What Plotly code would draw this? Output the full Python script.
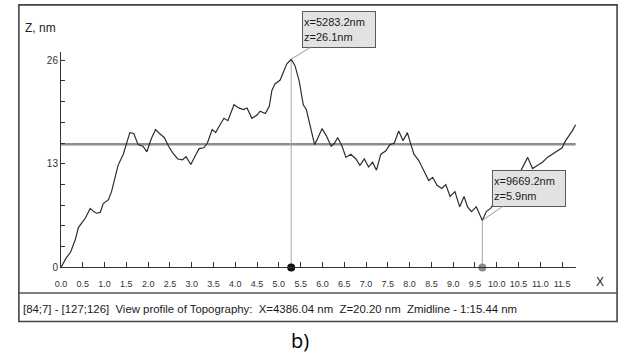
import plotly.graph_objects as go

# Surface profile: position along scan line (um) and height (nm)
x_um = [0.00, 0.12, 0.22, 0.33, 0.40, 0.48, 0.56, 0.67, 0.75, 0.82, 0.90, 0.97,
        1.09, 1.16, 1.24, 1.31, 1.43, 1.50, 1.58, 1.67, 1.77, 1.88, 1.97, 2.07,
        2.17, 2.26, 2.37, 2.47, 2.56, 2.68, 2.79, 2.87, 2.98, 3.10, 3.17, 3.28,
        3.36, 3.47, 3.55, 3.65, 3.74, 3.83, 3.97, 4.08, 4.19, 4.27, 4.38, 4.50,
        4.57, 4.69, 4.78, 4.84, 4.91, 5.03, 5.10, 5.18, 5.2832, 5.37, 5.47, 5.56,
        5.63, 5.71, 5.82, 5.90, 5.99, 6.09, 6.20, 6.28, 6.35, 6.45, 6.54, 6.65,
        6.77, 6.86, 6.96, 7.06, 7.15, 7.24, 7.34, 7.45, 7.55, 7.65, 7.75, 7.85,
        7.95, 8.03, 8.10, 8.21, 8.32, 8.44, 8.53, 8.63, 8.74, 8.83, 8.93, 9.04,
        9.15, 9.25, 9.33, 9.42, 9.53, 9.6692, 9.76, 9.86, 10.00, 10.15, 10.30,
        10.45, 10.56, 10.71, 10.82, 10.94, 11.05, 11.16, 11.28, 11.39, 11.50,
        11.58, 11.66, 11.73, 11.81]
z_nm = [0.0, 1.2, 1.9, 3.5, 5.0, 5.6, 6.2, 7.4, 7.0, 6.8, 6.9, 8.0,
        8.5, 9.5, 11.3, 12.8, 14.2, 15.4, 16.9, 16.8, 15.4, 15.2, 14.5, 16.1,
        17.3, 16.8, 16.3, 15.2, 14.4, 13.6, 13.5, 13.9, 12.9, 14.2, 14.9, 15.0,
        15.6, 17.3, 16.9, 17.9, 18.7, 18.4, 20.4, 20.0, 19.8, 20.0, 18.7, 19.1,
        19.6, 19.3, 20.2, 22.2, 23.0, 23.5, 24.5, 25.5, 26.1, 25.3, 23.3, 20.4,
        19.8, 17.9, 15.4, 16.3, 17.4, 16.5, 15.2, 15.6, 16.3, 15.2, 13.8, 14.2,
        13.6, 12.8, 13.6, 12.6, 13.2, 12.2, 14.2, 14.6, 15.4, 15.6, 17.1, 15.9,
        16.9, 15.4, 14.2, 13.4, 12.2, 10.9, 11.3, 10.3, 9.9, 10.4, 8.9, 9.5,
        7.6, 8.9, 7.6, 7.0, 7.6, 5.9, 7.0, 7.4, 8.6, 9.6, 10.5,
        11.5, 12.2, 13.8, 12.4, 12.8, 13.2, 13.8, 14.2, 14.6, 15.0,
        15.9, 16.5, 17.1, 17.9]

# Cursor readouts (x in nm, z in nm) and profile midline
cursor_x_nm = [5283.2, 9669.2]
cursor_z_nm = [26.1, 5.9]
cursor_colors = ["#111111", "#8c8c8c"]
z_midline = 15.44

x_ticks = [i * 0.5 for i in range(24)]
y_labels = [0, 13, 26]
y_minor = [round(i * 2.6, 1) for i in range(11)]

status_text = ("[84;7] - [127;126]  View profile of Topography:  X=4386.04 nm  "
               "Z=20.20 nm  Zmidline - 1:15.44 nm")

W, H = 624, 358
FONT = "Liberation Sans Narrow, Arial Narrow, Liberation Sans, Arial, sans-serif"


def px(v):
    return v / W


def py(v):
    return 1 - v / H


fig = go.Figure()

# Profile midline
fig.add_trace(go.Scatter(x=[0, x_um[-1]], y=[z_midline, z_midline], mode="lines",
                         line=dict(color="#8e8e8e", width=2.6), hoverinfo="skip"))

# Cursor verticals and base markers
for cx, cz, cc in zip(cursor_x_nm, cursor_z_nm, cursor_colors):
    fig.add_trace(go.Scatter(x=[cx / 1000, cx / 1000], y=[0, cz], mode="lines",
                             line=dict(color="#a8a8a8", width=1), hoverinfo="skip"))

# Height profile
fig.add_trace(go.Scatter(x=x_um, y=z_nm, mode="lines",
                         line=dict(color="#2e2e2e", width=1.2)))

fig.add_trace(go.Scatter(x=[c / 1000 for c in cursor_x_nm], y=[0, 0], mode="markers",
                         marker=dict(color=cursor_colors, size=8),
                         cliponaxis=False, hoverinfo="skip"))

# Cursor readout boxes
for cx, cz, ax, ay in zip(cursor_x_nm, cursor_z_nm, [48, 47], [-30, -32]):
    fig.add_annotation(x=cx / 1000, y=cz, xref="x", yref="y",
                       text=f"x={cx:.1f}nm<br>z={cz:.1f}nm",
                       showarrow=True, arrowhead=0, arrowwidth=1, arrowcolor="#9a9a9a",
                       ax=ax, ay=ay, align="left", width=70, height=33,
                       bgcolor="#e2e2e2", bordercolor="#5a5a5a", borderwidth=1,
                       borderpad=1, font=dict(family=FONT, size=11, color="#1a1a1a"))

fig.update_xaxes(domain=[px(55.5), px(575.6)], range=[0, 11.82],
                 tickvals=x_ticks, ticktext=[f"{t:.1f}" for t in x_ticks],
                 tickangle=0, ticklabelstandoff=8,
                 ticks="inside", ticklen=5, tickcolor="#333", tickwidth=1,
                 showline=True, linecolor="#333", linewidth=1,
                 showgrid=False, zeroline=False,
                 tickfont=dict(family=FONT, size=9, color="#333"))
fig.update_yaxes(domain=[py(272), py(53)], range=[0, 27.0],
                 tickvals=y_labels, ticks="inside", ticklen=4, tickcolor="#333",
                 minor=dict(tickvals=y_minor, ticks="inside", ticklen=4,
                            tickcolor="#333", showgrid=False),
                 showline=True, linecolor="#333", linewidth=1,
                 showgrid=False, zeroline=False,
                 tickfont=dict(family=FONT, size=10, color="#333"))

# Window frame and status bar
fig.add_shape(type="rect", xref="paper", yref="paper",
              x0=px(13), x1=px(617), y0=py(327), y1=py(5),
              line=dict(color="#444", width=1.6), layer="below")
fig.add_shape(type="line", xref="paper", yref="paper",
              x0=px(13), x1=px(617), y0=py(298), y1=py(298),
              line=dict(color="#555", width=1.4))

fig.add_annotation(x=px(17), y=py(28), xref="paper", yref="paper", text="Z, nm",
                   showarrow=False, xanchor="left", yanchor="middle",
                   font=dict(family=FONT, size=12, color="#222"))
fig.add_annotation(x=px(600), y=py(287), xref="paper", yref="paper", text="X",
                   showarrow=False, xanchor="center", yanchor="middle",
                   font=dict(family=FONT, size=12, color="#222"))
fig.add_annotation(x=px(15), y=py(314), xref="paper", yref="paper", text=status_text,
                   showarrow=False, xanchor="left", yanchor="middle",
                   font=dict(family=FONT, size=11.4, color="#1a1a1a"))
fig.add_annotation(x=px(297), y=py(346), xref="paper", yref="paper", text="b)",
                   showarrow=False, xanchor="center", yanchor="middle",
                   font=dict(family="Open Sans, Liberation Sans, sans-serif", size=20,
                             color="#000"))

fig.update_layout(width=W, height=H, margin=dict(l=0, r=0, t=0, b=0),
                  paper_bgcolor="white", plot_bgcolor="white", showlegend=False)

fig.write_html("out.html")
